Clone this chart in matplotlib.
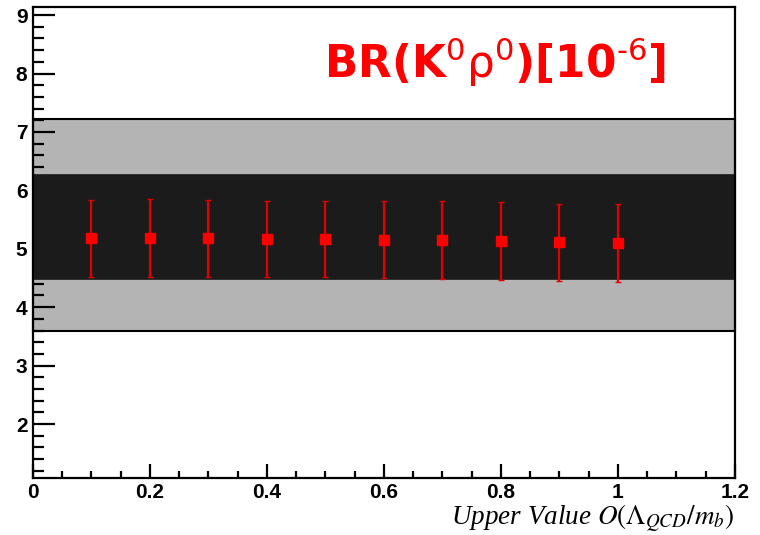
import matplotlib.pyplot as plt
import numpy as np
from matplotlib.ticker import MultipleLocator, FixedLocator, FixedFormatter

# data
x = [0.1, 0.2, 0.3, 0.4, 0.5, 0.6, 0.7, 0.8, 0.9, 1.0]
br = [5.18, 5.19, 5.18, 5.17, 5.16, 5.15, 5.15, 5.13, 5.11, 5.10]
br_hi = [5.83, 5.85, 5.83, 5.82, 5.82, 5.81, 5.82, 5.80, 5.77, 5.77]
br_lo = [4.52, 4.52, 4.52, 4.51, 4.51, 4.50, 4.48, 4.47, 4.45, 4.43]

band_outer = (3.59, 7.22)   # light grey band
band_inner = (4.49, 6.28)   # dark band

xticks = [0, 0.2, 0.4, 0.6, 0.8, 1.0, 1.2]
xticklabels = ['0', '0.2', '0.4', '0.6', '0.8', '1', '1.2']
yticks = [2, 3, 4, 5, 6, 7, 8, 9]

fig = plt.figure(figsize=(7.6, 5.35), dpi=100)
ax = fig.add_axes([0.0434, 0.107, 0.9236, 0.879])

ax.set_xlim(0, 1.2)
ax.set_ylim(1.08, 9.13)

# bands
ax.axhspan(band_outer[0], band_outer[1], xmin=0, xmax=1, facecolor='#b4b4b4',
           edgecolor='black', linewidth=1.5, zorder=1, clip_on=False)
ax.axhspan(band_inner[0], band_inner[1], xmin=0, xmax=1, facecolor='#1b1b1b',
           edgecolor='#1b1b1b', linewidth=0.5, zorder=2)

# points
y = np.array(br)
yerr = [y - np.array(br_lo), np.array(br_hi) - y]
ax.errorbar(x, y, yerr=yerr, fmt='s', color='#ff0000', ecolor='#e00000',
            markersize=7.5, elinewidth=1.6, capsize=2, capthick=1.0, zorder=5)

# axes styling, ROOT-like
for s in ax.spines.values():
    s.set_linewidth(1.6)
    s.set_zorder(6)

ax.xaxis.set_major_locator(FixedLocator(xticks))
ax.xaxis.set_major_formatter(FixedFormatter(xticklabels))
ax.xaxis.set_minor_locator(MultipleLocator(0.05))
ax.yaxis.set_major_locator(FixedLocator(yticks))
ax.yaxis.set_minor_locator(MultipleLocator(0.2))

ax.tick_params(which='both', direction='in', top=False, right=False, width=1.6)
ax.tick_params(axis='y', which='major', length=16, pad=4)
ax.tick_params(axis='y', which='minor', length=8)
ax.tick_params(axis='x', which='major', length=10, pad=4)
ax.tick_params(axis='x', which='minor', length=5)
for lab in ax.get_xticklabels() + ax.get_yticklabels():
    lab.set_fontfamily('Liberation Sans')
    lab.set_fontweight('bold')
    lab.set_fontsize(15)

# x axis title
fig.text(734 / 760, 1 - 525 / 535, r'Upper Value $O(\Lambda_{QCD}/m_b)$',
         ha='right', va='baseline', fontsize=19.5, fontfamily='Liberation Serif',
         style='italic', math_fontfamily='stix')

# label
fig.text(324 / 760, 1 - 78 / 535,
         r'BR(K$^{0}\mathrm{\rho}^{0}$)[10$^{\text{-}6}$]',
         ha='left', va='baseline', fontsize=31.5, fontweight='bold',
         color='#ff0000', fontfamily='DejaVu Sans', math_fontfamily='dejavusans')

plt.savefig('out.png', dpi=100)
